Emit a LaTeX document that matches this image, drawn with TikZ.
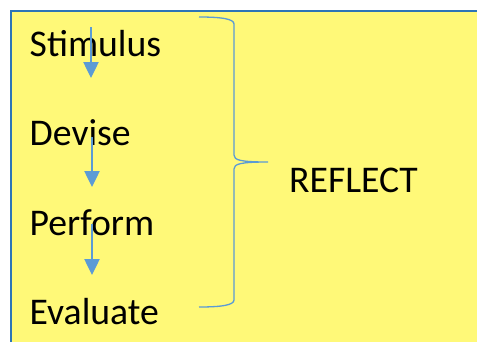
\documentclass[tikz,border=0pt]{standalone}
\usepackage{fontspec}
\setmainfont{Carlito}
\usetikzlibrary{arrows.meta}
\definecolor{notefill}{HTML}{FFF978}
\definecolor{noteedge}{HTML}{2E75B6}
\definecolor{flowblue}{HTML}{5B9BD5}
\begin{document}
\begin{tikzpicture}[x=1pt,y=-1pt,
  stage/.style={anchor=base west,inner sep=0pt,font=\fontsize{37.7}{44}\selectfont},
  flow/.style={draw=flowblue,line width=2.5pt,-{Triangle[width=15pt,length=16pt]}},
  bracket/.style={draw=flowblue,line width=1.3pt}]
\useasboundingbox (0,0) rectangle (477,341);
% note background
\fill[white] (0,0) rectangle (477,341);
\draw[fill=notefill,draw=noteedge,line width=2pt] (11,11) rectangle (500,370);

% stages
\node[stage] (stim) at (29.5,56) {Stimulus};
\node[stage] (dev)  at (29.5,145) {Devise};
\node[stage] (perf) at (29.5,235) {Perform};
\node[stage] (eval) at (29.5,324) {Evaluate};
\node[stage] (refl) at (289,192) {REFLECT};

% arrow ends
\coordinate (a1s) at (91,27);  \coordinate (a1e) at (91,78);
\coordinate (a2s) at (92,137); \coordinate (a2e) at (92,187);
\coordinate (a3s) at (92,224); \coordinate (a3e) at (92,275);
\draw[flow] (a1s) -- (a1e);
\draw[flow] (a2s) -- (a2e);
\draw[flow] (a3s) -- (a3e);

% curly bracket
\coordinate (bt) at (199,17);
\coordinate (bm) at (268,162);
\coordinate (bb) at (199,307);
\draw[bracket] (bt) .. controls (222,17) and (234,19) .. (234,24)
  -- (234,155) .. controls (234,160) and (240,162) .. (bm)
  .. controls (240,162) and (234,164) .. (234,169)
  -- (234,300) .. controls (234,305) and (222,307) .. (bb);
\end{tikzpicture}
\end{document}
